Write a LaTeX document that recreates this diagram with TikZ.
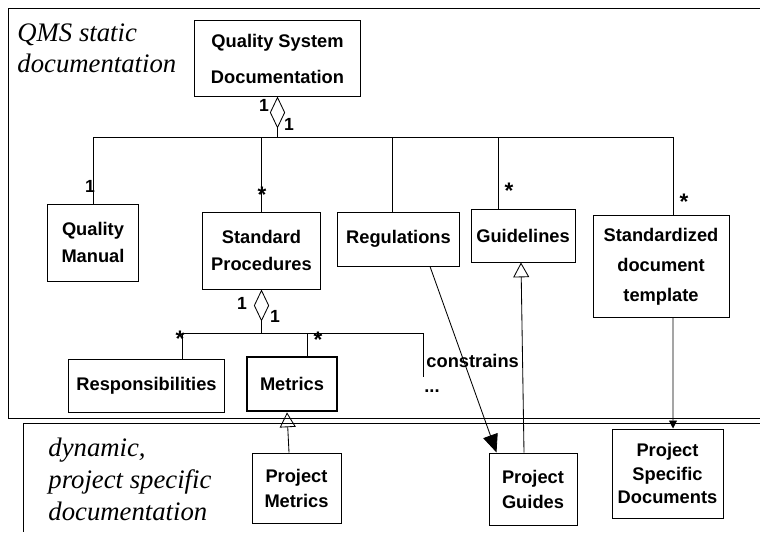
\documentclass[tikz,border=0pt]{standalone}
\usepackage{fontspec}
\setmainfont{Liberation Serif}
\setsansfont{Liberation Sans}
\usetikzlibrary{arrows.meta,positioning}

\newcommand\boxfont[1]{\sffamily\bfseries\fontsize{13}{#1}\selectfont}

\tikzset{
  box/.style={draw, line width=0.7pt, align=center, inner sep=0pt},
  mult/.style={font=\sffamily\bfseries\fontsize{12.5}{12}\selectfont, inner sep=0pt},
  many/.style={font=\sffamily\bfseries\fontsize{16}{16}\selectfont, inner sep=0pt},
  area/.style={font=\itshape\fontsize{19}{22.5}\selectfont, align=left, inner sep=0pt, anchor=north west},
  agg/.style={-{Diamond[open,length=0.8cm,width=0.38cm]}},
  inh/.style={-{Triangle[open,length=0.37cm,width=0.4cm]}},
}

\begin{document}
\begin{tikzpicture}[x=0.025cm, y=-0.025cm, line width=0.6pt]
    \useasboundingbox (0,0) rectangle (760,532);

    % the two frames, running off the right and bottom edges
    \draw (760,8) -- (8,8) -- (8,418) -- (760,418);
    \draw (760,423) -- (23,423) -- (23,532);
    \node[area] (static) at (17,23) {QMS static\\documentation};
    \node[area] (dynamic) at (48,438) {dynamic,\\project specific\\documentation};

    % static documentation
    \node[box, minimum width=4.125cm, minimum height=1.875cm, font=\boxfont{25.6}] (qsd) at (277.5,58.5) {Quality System\\Documentation};
    \node[box, minimum width=2.25cm, minimum height=1.925cm, font=\boxfont{19.2}] (qm) at (93,242.5) {Quality\\Manual};
    \node[box, minimum width=2.925cm, minimum height=1.925cm, font=\boxfont{19.2}] (sp) at (261.5,250.5) {Standard\\Procedures};
    \node[box, minimum width=3.025cm, minimum height=1.35cm, font=\boxfont{16}] (reg) at (398.5,239) {Regulations};
    \node[box, minimum width=2.6cm, minimum height=1.325cm, font=\boxfont{16}] (guide) at (523,235.5) {Guidelines};
    \node[box, minimum width=3.4cm, minimum height=2.525cm, font=\boxfont{21.3}] (sdt) at (661,266.5) {Standardized\\document\\template};
    \node[box, minimum width=3.875cm, minimum height=1.325cm, font=\boxfont{16}] (resp) at (146.5,385.5) {Responsibilities};
    \node[box, line width=2pt, minimum width=2.25cm, minimum height=1.35cm, font=\boxfont{16}] (met) at (292,384) {Metrics};

    % project documents
    \node[box, minimum width=2.225cm, minimum height=1.75cm, font=\boxfont{17.8}] (pm) at (296.5,488) {Project\\Metrics};
    \node[box, minimum width=2.2cm, minimum height=1.8cm, font=\boxfont{17.8}] (pg) at (533,489) {Project\\Guides};
    \node[box, minimum width=2.775cm, minimum height=2.225cm, font=\boxfont{16.4}] (psd) at (667.5,473.5) {Project\\Specific\\Documents};

    % aggregation below the top document
    \coordinate (bus) at (277.5,137);
    \coordinate (regtop) at ([xshift=-0.1625cm]reg.north);
    \coordinate (guidetop) at ([xshift=-0.625cm]guide.north);
    \coordinate (sdttop) at ([xshift=0.3cm]sdt.north);
    \draw[agg] (bus) -- (qsd.south);
    \draw (qm.north) -- (qm.north |- bus) -- (sdttop |- bus) -- (sdttop);
    \draw (sp.north) -- (sp.north |- bus);
    \draw (regtop) -- (regtop |- bus);
    \draw (guidetop) -- (guidetop |- bus);

    % aggregation below the procedures
    \coordinate (bus2) at (261.5,333);
    \coordinate (resptop) at ([xshift=0.8875cm]resp.north);
    \coordinate (mettop) at ([xshift=0.375cm]met.north);
    \coordinate (more) at (423,377);
    \draw[agg] (bus2) -- (sp.south);
    \draw (resptop) -- (resptop |- bus2) -- (more |- bus2) -- (more);
    \draw (mettop) -- (mettop |- bus2);
    \node[font=\boxfont{13}, anchor=west, inner sep=0pt] (constr) at (426,361) {constrains};
    \node[font=\boxfont{13}, inner sep=0pt] (dots) at (432,391) {...};

    % multiplicities
    \node[mult] (m1) at (264,105) {1};
    \node[mult] (m2) at (289,124) {1};
    \node[mult] (m3) at (90,186) {1};
    \node[many] (m4) at (262,195) {*};
    \node[many] (m5) at (509,191) {*};
    \node[many] (m6) at (684,202) {*};
    \node[mult] (m7) at (242,303) {1};
    \node[mult] (m8) at (275,316) {1};
    \node[many] (m9) at (180,339) {*};
    \node[many] (m10) at (318,340) {*};

    % links down into the project documents
    \draw[-{Triangle[length=0.45cm,width=0.38cm]}] ([xshift=0.7875cm]reg.south) -- ([xshift=0.2cm]pg.north west);
    \draw[inh] ([xshift=-0.225cm]pg.north) -- ([xshift=-0.05cm]guide.south);
    \draw[inh] ([xshift=-0.1875cm]pm.north) -- ([xshift=-0.125cm]met.south);
    \draw[-{Triangle[length=0.2cm,width=0.2cm]}] ([xshift=0.3cm]sdt.south) -- ([xshift=0.1375cm]psd.north);
\end{tikzpicture}
\end{document}
